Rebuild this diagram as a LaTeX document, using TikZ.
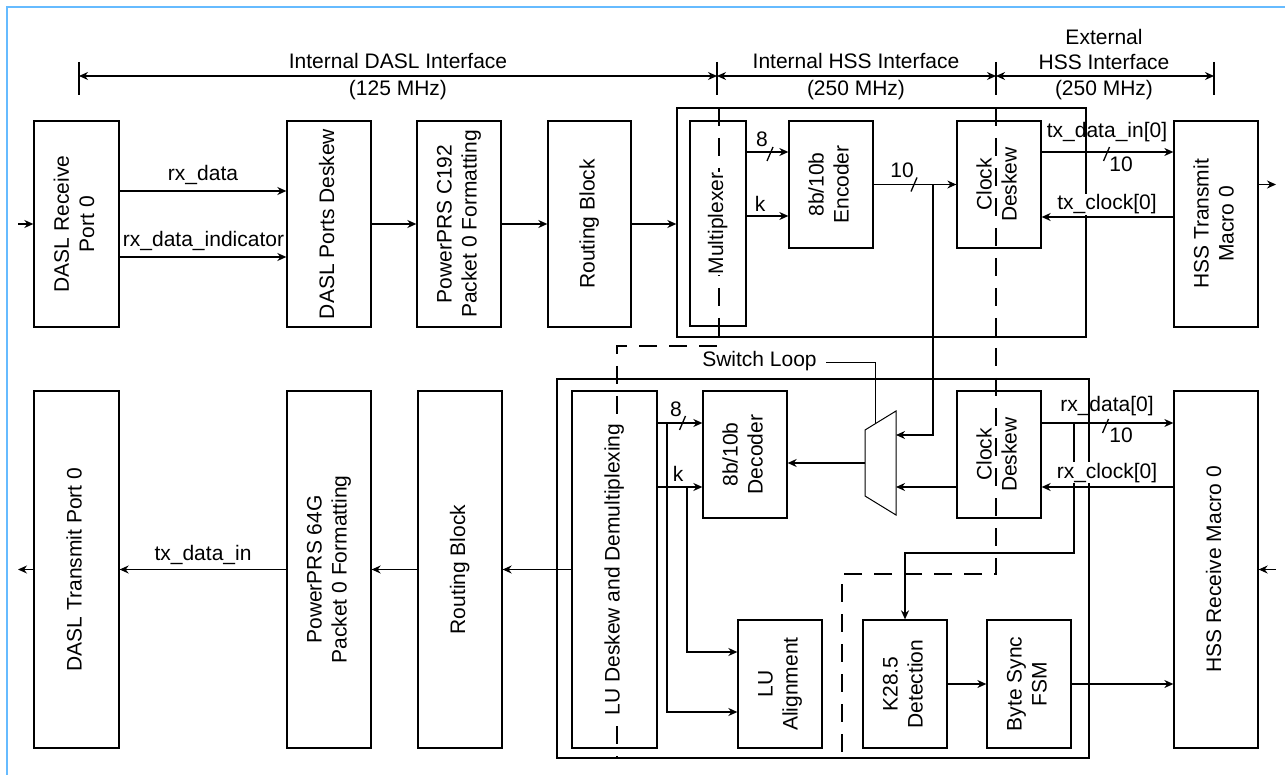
\documentclass[tikz,border=0pt]{standalone}
\usepackage{fontspec}
\setmainfont{Liberation Sans}
\usetikzlibrary{arrows.meta}
% vertical (rotated) multi-line block text
\newcommand{\vtext}[1]{\rotatebox{90}{\begin{tabular}{@{}c@{}}#1\end{tabular}}}
% same, on a white ground so that a boundary line passes behind it
\newcommand{\wvtext}[1]{{\setlength{\fboxsep}{1pt}\colorbox{white}{\vtext{#1}}}}
% bus-width slash across a wire
\newcommand{\busmark}[2]{\draw (#1,#2) ++(-3,7) -- ++(6,-14);}
\definecolor{framecol}{RGB}{102,187,255}
\begin{document}
\begin{tikzpicture}[x=1pt,y=-1pt,line width=1.3pt,
  blk/.style={draw,rectangle,inner sep=0pt,font=\fontsize{21}{25}\selectfont},
  lbl/.style={font=\fontsize{21}{25}\selectfont,inner sep=1pt},
  arr/.style={-{Stealth[length=9pt,width=8pt]}},
  dimarr/.style={{Stealth[length=9pt,width=8pt]}-{Stealth[length=9pt,width=8pt]}},
  bnd/.style={dash pattern=on 18pt off 12pt}]
\useasboundingbox (0,0) rectangle (1285,775);

% page frame
\draw[framecol,line width=2.5pt] (7,775) -- (7,7) -- (1285,7);

% interface dimension lines
\draw (79,62) -- (79,95);
\draw (717,62) -- (717,95);
\draw (996,62) -- (996,95);
\draw (1214,62) -- (1214,95);
\draw[dimarr] (79,76) -- (717,76);
\draw[dimarr] (717,76) -- (996,76);
\draw[dimarr] (996,76) -- (1214,76);
\node[lbl] (dl1) at (398,61) {Internal DASL Interface};
\node[lbl] (dl2) at (398,90) {(125 MHz)};
\node[lbl] (dl3) at (856,61) {Internal HSS Interface};
\node[lbl] (dl4) at (856,90) {(250 MHz)};
\node[lbl] (dl5) at (1104,37) {External};
\node[lbl] (dl6) at (1104,62) {HSS Interface};
\node[lbl] (dl7) at (1104,90) {(250 MHz)};

% clock-domain boundaries
\draw[bnd] (719,108) -- (719,346) -- (617,346) -- (617,758);
\draw[bnd] (996,108) -- (996,574) -- (842,574) -- (842,758);

% enclosing boxes
\node[draw,inner sep=0pt,minimum width=409pt,minimum height=229pt] (outT) at (881.5,222.5) {};
\node[draw,inner sep=0pt,minimum width=532pt,minimum height=379pt] (outB) at (823,568.5) {};

% transmit path blocks
\node[blk,minimum width=85pt,minimum height=206pt] (rxp) at (76.5,224) {\vtext{DASL Receive\\Port 0}};
\node[blk,minimum width=84pt,minimum height=206pt] (dsk) at (329,224) {\vtext{DASL Ports Deskew}};
\node[blk,minimum width=84pt,minimum height=206pt] (prs1) at (459,224) {\vtext{PowerPRS C192\\Packet 0 Formatting}};
\node[blk,minimum width=83pt,minimum height=206pt] (rt1) at (589.5,224) {\vtext{Routing Block}};
\node[blk,minimum width=56pt,minimum height=205pt] (mux1) at (718,223.5) {\wvtext{Multiplexer}};
\node[blk,minimum width=84pt,minimum height=127pt] (enc) at (831,184.5) {\vtext{8b/10b\\Encoder}};
\node[blk,minimum width=84pt,minimum height=127pt] (cd1) at (999,184.5) {\vtext{Clock\\Deskew}};
\node[blk,minimum width=84pt,minimum height=206pt] (hsst) at (1216,224) {\vtext{HSS Transmit\\Macro 0}};

% receive path blocks
\node[blk,minimum width=85pt,minimum height=357pt] (dtx) at (76.5,569.5) {\vtext{DASL Transmit Port 0}};
\node[blk,minimum width=84pt,minimum height=357pt] (prs2) at (329,569.5) {\vtext{PowerPRS 64G\\Packet 0 Formatting}};
\node[blk,minimum width=84pt,minimum height=357pt] (rt2) at (460,569.5) {\vtext{Routing Block}};
\node[blk,minimum width=85pt,minimum height=357pt] (lud) at (614.5,569.5) {\wvtext{LU Deskew and Demultiplexing}};
\node[blk,minimum width=84pt,minimum height=127pt] (dec) at (745,454.5) {\vtext{8b/10b\\Decoder}};
\node[blk,minimum width=84pt,minimum height=127pt] (cd2) at (999,454.5) {\vtext{Clock\\Deskew}};
\node[blk,minimum width=84pt,minimum height=357pt] (hssr) at (1216,569.5) {\vtext{HSS Receive Macro 0}};
\node[blk,minimum width=84pt,minimum height=128pt] (lua) at (780,684) {\vtext{LU\\Alignment}};
\node[blk,minimum width=84pt,minimum height=128pt] (k28) at (905,684) {\vtext{K28.5\\Detection}};
\node[blk,minimum width=84pt,minimum height=128pt] (bsf) at (1029,684) {\vtext{Byte Sync\\FSM}};

% switch-loop selector
\coordinate (smTL) at (865,430);
\coordinate (smTR) at (896,411);
\coordinate (smBR) at (896,515);
\coordinate (smBL) at (865,496);
\coordinate (smIn1) at (896,435);
\coordinate (smIn2) at (896,487);
\coordinate (smOut) at (865,463);
\coordinate (smTop) at (875,424);
\draw[line width=1pt] (smTL) -- (smTR) -- (smBR) -- (smBL) -- cycle;

% transmit path wiring
\coordinate (inT) at (18,224);
\coordinate (outTx) at (1276,184.5);
\draw[arr] (inT) -- (rxp.west);
\draw[arr] (rxp.east |- 0,191) -- (dsk.west |- 0,191);
\draw[arr] (rxp.east |- 0,257) -- (dsk.west |- 0,257);
\draw[arr] (dsk.east) -- (prs1.west);
\draw[arr] (prs1.east) -- (rt1.west);
\draw[arr] (rt1.east) -- (rt1.east -| outT.west);
\draw[arr] (mux1.east |- 0,152) -- (enc.west |- 0,152);
\draw[arr] (mux1.east |- 0,216) -- (enc.west |- 0,216);
\draw[arr] (enc.east) -- (cd1.west);
\draw[arr] (cd1.east |- 0,152) -- (hsst.west |- 0,152);
\draw[arr] (hsst.west |- 0,217) -- (cd1.east |- 0,217);
\draw[arr] (hsst.east |- outTx) -- (outTx);
\coordinate (br1) at (933,184.5);
\draw[arr] (br1) -- (br1 |- smIn1) -- (smIn1);

% loop selector wiring
\draw[arr] (cd2.west |- smIn2) -- (smIn2);
\draw[arr] (smOut) -- (dec.east |- smOut);
\draw[line width=1pt] (826,363) -- (smTop |- 0,363) -- (smTop);

% receive path wiring
\coordinate (outRx) at (18,569.5);
\coordinate (inR) at (1276,569.5);
\draw[arr] (lud.east |- 0,423) -- (dec.west |- 0,423);
\draw[arr] (lud.east |- 0,487) -- (dec.west |- 0,487);
\coordinate (b8) at (667,423);
\coordinate (bk) at (687,487);
\draw[arr] (b8) -- (b8 |- 0,712) -- (lua.west |- 0,712);
\draw[arr] (bk) -- (bk |- 0,652) -- (lua.west |- 0,652);
\draw[arr] (cd2.east |- 0,423) -- (hssr.west |- 0,423);
\draw[arr] (hssr.west |- 0,487) -- (cd2.east |- 0,487);
\coordinate (br2) at (1074,423);
\draw[arr] (br2) -- (br2 |- 0,553) -- (k28.north |- 0,553) -- (k28.north);
\draw[arr] (k28.east) -- (bsf.west);
\draw[arr] (bsf.east) -- (hssr.west |- bsf.east);
\draw[arr] (lud.west) -- (rt2.east);
\draw[arr] (rt2.west) -- (prs2.east);
\draw[arr] (prs2.west) -- (dtx.east);
\draw[arr] (dtx.west) -- (outRx);
\draw[arr] (inR) -- (hssr.east);

% bus widths
\busmark{770}{154}
\busmark{914}{184.5}
\busmark{1106.5}{154}
\busmark{682.5}{423}
\busmark{1105.5}{426}

% wire labels
\node[lbl,anchor=base] (w1) at (203,181) {rx\_data};
\node[lbl,anchor=base] (w2) at (203.5,247) {rx\_data\_indicator};
\node[lbl,anchor=base] (w3) at (762,147) {8};
\node[lbl,anchor=base] (w4) at (760,212) {k};
\node[lbl,anchor=base] (w5) at (902,178) {10};
\node[lbl,anchor=base] (w6) at (1107,138) {tx\_data\_in[0]};
\node[lbl,anchor=base] (w7) at (1121,172) {10};
\node[lbl,anchor=base,fill=white] (w8) at (1107,210) {tx\_clock[0]};
\node[lbl,anchor=base] (w9) at (676,417) {8};
\node[lbl,anchor=base] (w10) at (678,481) {k};
\node[lbl,anchor=base] (w11) at (1107,412) {rx\_data[0]};
\node[lbl,anchor=base] (w12) at (1121,442) {10};
\node[lbl,anchor=base,fill=white] (w13) at (1107,478) {rx\_clock[0]};
\node[lbl,anchor=base] (w14) at (203,560) {tx\_data\_in};
\node[lbl,anchor=base] (w15) at (759.5,367) {Switch Loop};
\end{tikzpicture}
\end{document}
